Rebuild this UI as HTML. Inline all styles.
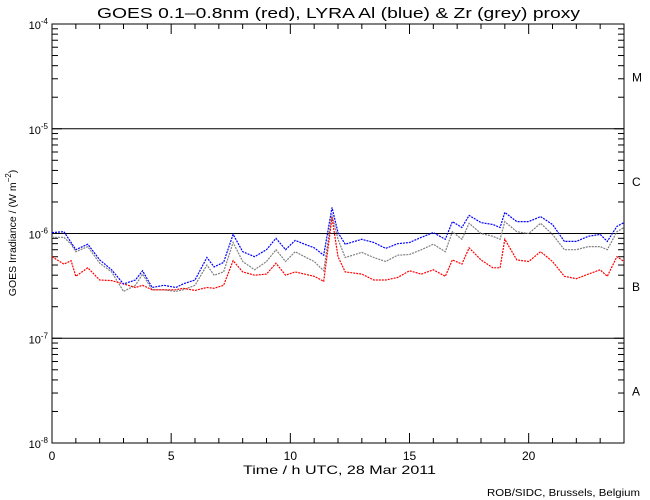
<!DOCTYPE html>
<html><head><meta charset="utf-8"><style>
html,body{margin:0;padding:0;background:#fff;}
svg{display:block;font-family:"Liberation Sans",sans-serif;}
</style></head><body>
<svg id="chart" width="650" height="500" viewBox="0 0 650 500" xmlns="http://www.w3.org/2000/svg">
<rect width="650" height="500" fill="#fff"/>
<text x="97" y="18" font-size="15" textLength="483" lengthAdjust="spacingAndGlyphs">GOES 0.1–0.8nm (red), LYRA Al (blue) &amp; Zr (grey) proxy</text>
<text x="243" y="474" font-size="12" textLength="193" lengthAdjust="spacingAndGlyphs">Time / h UTC, 28 Mar 2011</text>
<text x="487" y="496" font-size="10.5" textLength="153" lengthAdjust="spacingAndGlyphs">ROB/SIDC, Brussels, Belgium</text>
<text transform="translate(16,233) rotate(-90)" text-anchor="middle" font-size="10.5">GOES Irradiance / (W m<tspan font-size="8" dy="-5">−2</tspan><tspan dy="5">)</tspan></text>
<g id="axes"></g>
<g id="series"></g>
</svg>
<script>
const hours=[0,0.5,0.8,1,1.5,2,2.5,3,3.5,3.8,4.2,4.7,5.2,5.5,6,6.5,6.8,7.2,7.6,8,8.5,9,9.4,9.8,10.2,10.6,11,11.4,11.75,12,12.3,13,13.5,14,14.5,15,15.5,16,16.5,16.8,17.2,17.5,18,18.5,18.8,19,19.5,20,20.5,21,21.5,22,22.5,23,23.3,23.7,24];
// values in units of 1e-7 W m^-2
const blueAl=[10.2,10.4,8.2,7.0,7.9,5.6,4.5,3.3,3.6,4.4,3.05,3.2,3.05,3.3,3.6,5.9,4.8,5.3,9.8,6.7,6.0,7.0,9.0,7.0,8.6,7.9,7.3,6.2,17.7,10.2,7.9,8.8,8.2,7.2,8.0,8.2,9.2,10.2,8.8,13.0,11.4,14.9,12.7,12.2,11.4,15.9,13.0,13.0,14.5,12.2,8.4,8.4,9.4,9.8,8.4,11.7,12.7];
const greyZr=[9.2,9.2,7.9,6.7,7.5,5.2,4.3,2.8,3.2,4.1,2.9,2.9,2.8,2.9,3.2,5.0,4.0,4.3,8.2,5.4,4.5,5.4,7.0,5.4,6.7,6.0,5.4,4.4,15.2,8.8,5.9,6.6,5.9,5.4,6.2,6.3,7.0,7.9,6.7,10.4,8.8,12.5,10,9.4,8.8,13.0,10.4,10,12.5,9.8,7.0,7.0,7.5,7.5,7.0,10.4,11.4];
const redGoes=[6.0,5.1,5.5,3.9,4.7,3.6,3.55,3.3,3.05,3.2,2.9,2.9,2.9,3.0,2.86,3.05,3.0,3.2,5.5,4.3,4.0,4.1,5.2,4.0,4.3,4.1,3.9,3.5,14.2,6.0,4.3,4.1,3.6,3.6,3.8,4.4,4.1,4.5,3.9,5.6,5.1,7.3,5.6,4.7,4.7,8.8,5.6,5.4,6.7,5.4,3.9,3.7,4.1,4.5,3.9,6.0,5.4];
const xTicks=[0,5,10,15,20];
const yDecades=[-8,-7,-6,-5,-4];
const classLabels=["A","B","C","M"];

const NS="http://www.w3.org/2000/svg";
const L=52,R=624,T=24,B=443;
function xs(h){return L+(R-L)*h/24;}
function ys(logv){return B-(B-T)*(logv+8)/4;}
function yv(v){return ys(Math.log10(v*1e-7));}
function mk(tag,attrs,parent){const e=document.createElementNS(NS,tag);for(const k in attrs)e.setAttribute(k,attrs[k]);parent.appendChild(e);return e;}
const ax=document.getElementById('axes');
const frame=mk('rect',{x:L,y:T,width:R-L,height:B-T,fill:'none',stroke:'#000','stroke-width':1},ax);


yDecades.forEach((d,i)=>{
  const y=ys(d);
  if(d>-8&&d<-4){const g=mk('line',{x1:L,x2:R,y1:y,y2:y,stroke:'#000','stroke-width':1},ax);
    
    }
  const t=mk('text',{x:48,y:y+5,'font-size':11,'text-anchor':'end'},ax);
  
  
  t.innerHTML='10<tspan font-size="8" dy="-5">'+d+'</tspan>';
  if(i<yDecades.length-1){
    for(let m=2;m<=9;m++){
      const yy=ys(d+Math.log10(m));
      mk('line',{x1:L,x2:L+6,y1:yy,y2:yy,stroke:'#000'},ax);
      mk('line',{x1:R,x2:R-6,y1:yy,y2:yy,stroke:'#000'},ax);
    }
    const c=mk('text',{x:632,y:ys(d+0.5)+5,'font-size':12},ax);
    
    
    c.textContent=classLabels[i];
  }
  mk('line',{x1:L,x2:L+10,y1:y,y2:y,stroke:'#000'},ax);
  mk('line',{x1:R,x2:R-10,y1:y,y2:y,stroke:'#000'},ax);
});
for(let h=0;h<=24;h++){
  const x=xs(h);const len=(h%5===0)?10:5;
  mk('line',{x1:x,x2:x,y1:B,y2:B-len,stroke:'#000'},ax);
  mk('line',{x1:x,x2:x,y1:T,y2:T+len,stroke:'#000'},ax);
}
xTicks.forEach(h=>{
  const t=mk('text',{x:xs(h),y:460,'font-size':12,'text-anchor':'middle'},ax);
  
  
  t.textContent=h;
});
const sg=document.getElementById('series');
function line(vals,color,name,dash){
  const pts=hours.map((h,i)=>xs(h).toFixed(1)+','+yv(vals[i]).toFixed(1)).join(' ');
  const p=mk('polyline',{points:pts,fill:'none',stroke:color,'stroke-width':1.2,'stroke-dasharray':dash},sg);
  
  
}
line(greyZr,'#808080','lyra-zr-series','2 1');
line(redGoes,'#ff0000','goes-series','2 1');
line(blueAl,'#0000ff','lyra-al-series','2 1');
</script>
</body></html>
